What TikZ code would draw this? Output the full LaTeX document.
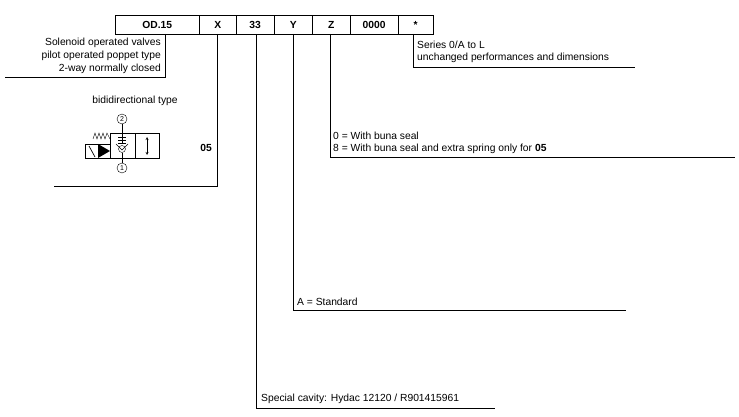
\documentclass[tikz,border=0pt]{standalone}
\usepackage{fontspec}
\setmainfont{Liberation Sans}
\begin{document}
\begin{tikzpicture}[x=1pt,y=-1pt,font=\fontsize{10.3}{13}\selectfont,
  codebox/.style={draw,minimum height=19pt,inner sep=0pt,font=\fontsize{10.3}{12}\selectfont\bfseries,anchor=north west},
  lbl/.style={inner sep=0pt,anchor=west},
  ln/.style={line width=0.7pt},
  port/.style={draw,circle,minimum size=10pt,inner sep=0pt,font=\fontsize{7}{7}\selectfont}]
\useasboundingbox (0,0) rectangle (739,417);
\node[codebox,minimum width=84pt] (c1) at (115,15) {OD.15};
\node[codebox,minimum width=37pt] (c2) at (199,15) {X};
\node[codebox,minimum width=38pt] (c3) at (236,15) {33};
\node[codebox,minimum width=38pt] (c4) at (274,15) {Y};
\node[codebox,minimum width=38pt] (c5) at (312,15) {Z};
\node[codebox,minimum width=48pt] (c6) at (350,15) {0000};
\node[codebox,minimum width=35pt] (c7) at (398,15) {*};
% left description
\node[inner sep=0pt,align=right,anchor=north east] (d1) at (161,38) {Solenoid operated valves\\pilot operated poppet type\\2-way normally closed};
\coordinate (d1a) at (165,34); \coordinate (d1b) at (165,77); \coordinate (d1c) at (5,77);
\draw[ln] (d1a) -- (d1b) -- (d1c);
% X
\coordinate (xa) at (217,34); \coordinate (xb) at (217,186); \coordinate (xc) at (54,186);
\draw[ln] (xa) -- (xb) -- (xc);
\node[inner sep=0pt,font=\fontsize{10.3}{12}\selectfont\bfseries] (o5) at (206,148) {05};
\node[inner sep=0pt] (bt) at (135,101) {bididirectional type};
% valve symbol
\draw[ln] (110,133) rectangle (135,158);
\draw[ln] (135,133) rectangle (159,158);
\draw[ln] (85,144) rectangle (110,158);
\draw[ln] (89,146) -- (95,157);
\fill (98,144) -- (110,151) -- (98,158) -- cycle;
\draw (93,139) -- (95,133) -- (97,139) -- (99,133) -- (101,139) -- (103,133) -- (105,139) -- (107,133) -- (110,139);
\node[port] (p2) at (122,119) {2};
\node[port] (p1) at (122,168) {1};
\draw[ln] (p2) -- (122,133);
\draw[ln] (p1) -- (122,158);
\draw (118,137) -- (126,137) (118,140) -- (126,140) (118,143) -- (126,143);
\draw (122,133) -- (122,144);
\draw (116,144) -- (122,150) -- (128,144);
\draw (122,149) circle (3.5);
\draw (122,153) -- (122,158);
\draw[>=stealth,<->] (147,137) -- (147,155);
% 33
\coordinate (ta) at (256,34); \coordinate (tb) at (256,408); \coordinate (tc) at (495,408);
\draw[ln] (ta) -- (tb) -- (tc);
\node[lbl] (t3) at (261,399) {Special cavity: Hydac 12120 / R901415961};
% Y
\coordinate (ya) at (293,34); \coordinate (yb) at (293,310); \coordinate (yc) at (626,310);
\draw[ln] (ya) -- (yb) -- (yc);
\node[lbl] (t4) at (297,302) {A = Standard};
% Z
\coordinate (za) at (330,34); \coordinate (zb) at (330,157); \coordinate (zc) at (735,157);
\draw[ln] (za) -- (zb) -- (zc);
\node[lbl] (t5a) at (333,136) {0 = With buna seal};
\node[lbl] (t5b) at (333,149) {8 = With buna seal and extra spring only for \textbf{05}};
% series
\coordinate (sb) at (413,34); \coordinate (sc) at (413,67); \coordinate (sd) at (635,67);
\draw[ln] (sb) -- (sc) -- (sd);
\node[lbl] (t7a) at (417,45) {Series 0/A to L};
\node[lbl] (t7b) at (417,58) {unchanged performances and dimensions};
\end{tikzpicture}
\end{document}
